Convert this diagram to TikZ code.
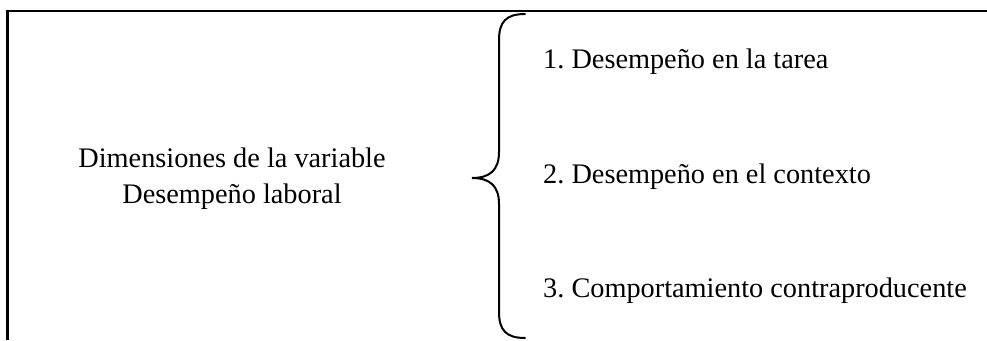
\documentclass[tikz,border=0pt]{standalone}
\usepackage{fontspec}
\setmainfont{Liberation Serif}
\frenchspacing
\begin{document}
\begin{tikzpicture}[x=1pt,y=-1pt,
  lbl/.style={inner sep=0pt,font=\fontsize{28.3}{35.5}\selectfont},
  frame/.style={line width=2.4pt,black},
  brace/.style={line width=2pt,black,line cap=round}]
\useasboundingbox (0,0) rectangle (987,340);
\draw[frame] (7.5,340) -- (7.5,11) -- (987,11);
\node[lbl,align=center,anchor=base] (dim) at (232,203) {Dimensiones de la variable\\Desempeño laboral};
\draw[brace] (525,14) .. controls (506,14) and (499,22) .. (499,40) -- (499,152)
  .. controls (499,170) and (490,178) .. (472,178)
  .. controls (490,178) and (499,186) .. (499,204) -- (499,312)
  .. controls (499,330) and (506,338) .. (525,338);
\node[lbl,anchor=base west] (d1) at (543,68) {1. Desempeño en la tarea};
\node[lbl,anchor=base west] (d2) at (543,183) {2. Desempeño en el contexto};
\node[lbl,anchor=base west] (d3) at (543,297.5) {3. Comportamiento contraproducente};
\end{tikzpicture}
\end{document}
